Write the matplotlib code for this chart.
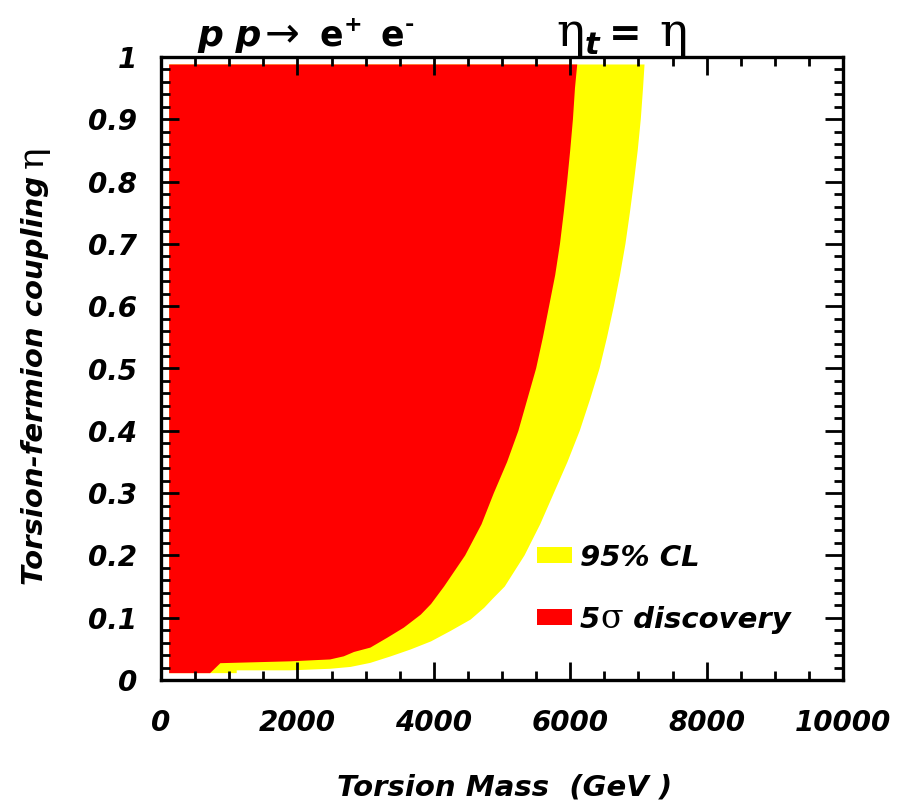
import matplotlib
matplotlib.use('Agg')
import matplotlib.pyplot as plt
from matplotlib.patches import Rectangle
from matplotlib.ticker import MultipleLocator, FuncFormatter

# outline of the 5 sigma discovery region (mass in GeV, coupling eta)
disc_mass = [120, 720, 870, 1900, 2480, 2680, 2830, 3070, 3320, 3560, 3810, 3960,
             4150, 4460, 4700, 4880, 5075, 5240, 5370, 5500, 5600, 5690, 5780, 5850,
             5905, 5955, 6000, 6040, 6070, 6103, 120]
disc_eta = [0.011, 0.011, 0.027, 0.030, 0.033, 0.038, 0.045, 0.052, 0.068, 0.084, 0.105, 0.122,
            0.150, 0.200, 0.250, 0.300, 0.350, 0.400, 0.450, 0.500, 0.550, 0.600, 0.650, 0.700,
            0.750, 0.800, 0.850, 0.900, 0.950, 0.988, 0.988]

# outline of the 95% CL region
cl95_mass = [720, 1110, 1110, 1900, 2480, 2780, 3070, 3370, 3660, 3960, 4250, 4540,
             4740, 4860, 5040, 5330, 5560, 5760, 5960, 6140, 6290, 6430, 6540, 6640,
             6730, 6810, 6875, 6935, 6990, 7035, 7068, 7090, 120, 120]
cl95_eta = [0.011, 0.011, 0.0155, 0.0155, 0.018, 0.021, 0.0275, 0.038, 0.049, 0.062, 0.079, 0.097,
            0.116, 0.130, 0.150, 0.200, 0.250, 0.300, 0.350, 0.400, 0.450, 0.500, 0.550, 0.600,
            0.650, 0.700, 0.750, 0.800, 0.850, 0.900, 0.950, 0.988, 0.988, 0.011]

W, H = 899, 805
SANS = dict(family='DejaVu Sans', weight='bold', style='italic')
UPR = dict(family='DejaVu Sans', weight='bold', style='normal')
PLAIN = dict(family='DejaVu Sans', weight='normal', style='normal')
SYM = dict(family='DejaVu Serif', weight='normal', style='normal')


def put_pieces(fig, x, y, pieces, vertical=False):
    # lay text pieces one after another, x/y in pixels from the top-left
    r = fig.canvas.get_renderer()
    xd, yd = x, H - y
    for txt, size, font, gap, rise in pieces:
        if vertical:
            t = fig.text((xd - rise) / W, (yd + gap) / H, txt, fontsize=size, rotation=90,
                         rotation_mode='anchor', ha='left', va='baseline', **font)
            yd = t.get_window_extent(r).y1
        else:
            t = fig.text((xd + gap) / W, (yd + rise) / H, txt, fontsize=size,
                         ha='left', va='baseline', **font)
            xd = t.get_window_extent(r).x1


fig = plt.figure(figsize=(W / 100, H / 100), dpi=100)
ax = fig.add_axes([161 / W, 1 - 680 / H, 682 / W, 623 / H])

ax.fill(cl95_mass, cl95_eta, color='#ffff00', lw=0)
ax.fill(disc_mass, disc_eta, color='#ff0000', lw=0)

ax.set_xlim(0, 10000)
ax.set_ylim(0, 1)
ax.xaxis.set_major_locator(MultipleLocator(2000))
ax.xaxis.set_minor_locator(MultipleLocator(500))
ax.yaxis.set_major_locator(MultipleLocator(0.1))
ax.yaxis.set_minor_locator(MultipleLocator(0.02))
ax.xaxis.set_major_formatter(FuncFormatter(lambda v, p: '%g' % v))
ax.yaxis.set_major_formatter(FuncFormatter(lambda v, p: '%g' % round(v, 2)))
ax.tick_params(which='both', direction='in', top=True, right=True, width=2)
ax.tick_params(which='major', length=13)
ax.tick_params(which='minor', length=6.5)
ax.tick_params(axis='x', which='major', pad=21)
ax.tick_params(axis='y', which='major', pad=17)
for lab in ax.get_xticklabels() + ax.get_yticklabels():
    lab.set_fontsize(20)
    lab.set_fontfamily('DejaVu Sans')
    lab.set_fontweight('bold')
    lab.set_fontstyle('italic')
for s in ax.spines.values():
    s.set_linewidth(2.4)

# legend drawn by hand
ax.add_patch(Rectangle(((537 - 161) / 682, (680 - 563) / 623), 35 / 682, 16 / 623,
                       transform=ax.transAxes, color='#ffff00', lw=0))
ax.add_patch(Rectangle(((537 - 161) / 682, (680 - 625) / 623), 35 / 682, 16 / 623,
                       transform=ax.transAxes, color='#ff0000', lw=0))
put_pieces(fig, 580, 566, [('95% CL', 21, SANS, 0, 0)])
put_pieces(fig, 580, 628, [('5', 21, SANS, 0, 0), ('σ', 24, SYM, 0, 0),
                           (' discovery', 21, SANS, 0, 0)])

# title line
put_pieces(fig, 197, 46, [('p p', 26, SANS, 0, 0), ('→', 30, PLAIN, 3, 0),
                          ('e', 25, UPR, 20, 0), ('+', 16, UPR, 1, 15),
                          ('e', 25, UPR, 18, 0), ('-', 16, UPR, 1, 15)])
put_pieces(fig, 556, 46, [('η', 34, SYM, 0, 0), ('t', 22, SANS, 0, -8),
                          ('=', 28, UPR, 10, 0), ('η', 34, SYM, 18, 0)])

# axis titles
put_pieces(fig, 337, 795, [('Torsion Mass  (GeV )', 21, SANS, 0, 0)])
put_pieces(fig, 43, 585, [('Torsion-fermion coupling', 21, SANS, 0, 0),
                          ('η', 26, SYM, 8, 0)], vertical=True)

fig.savefig('out.png', dpi=100)
